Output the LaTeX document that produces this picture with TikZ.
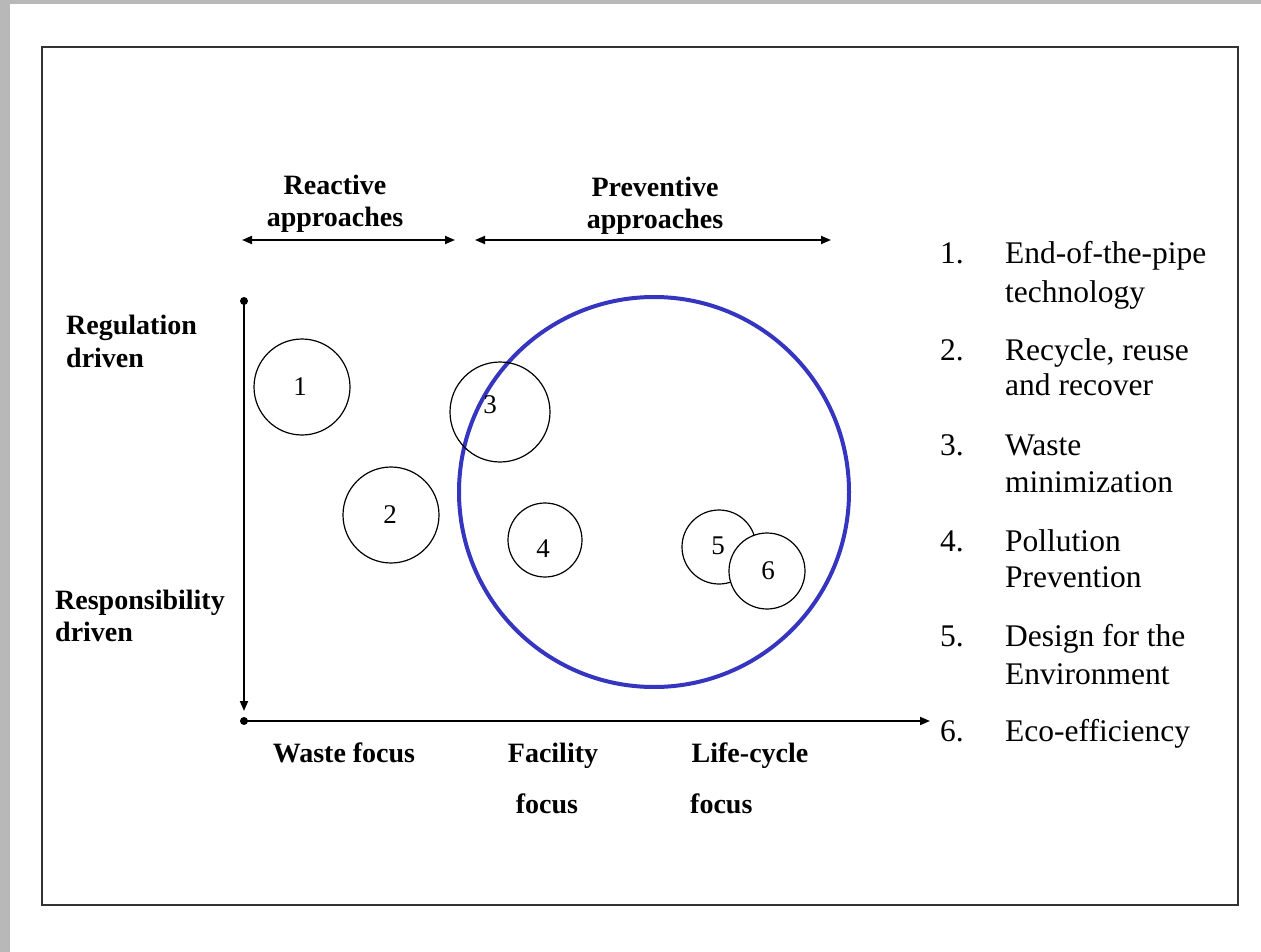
\documentclass[tikz,border=0pt]{standalone}
\usepackage{fontspec}
\setmainfont{Liberation Serif}
\usetikzlibrary{arrows.meta}
\definecolor{pagegray}{HTML}{B8B8B8}
\definecolor{framegray}{HTML}{333333}
\definecolor{ringblue}{HTML}{3535C0}
\tikzset{
  lbl/.style={font=\fontsize{28}{32}\selectfont\bfseries, inner sep=0pt, anchor=base},
  lbll/.style={lbl, anchor=base west},
  leg/.style={font=\fontsize{31.5}{35}\selectfont, inner sep=0pt, anchor=base west},
  bub/.style={circle, draw=black, line width=1.2pt, inner sep=0pt},
  num/.style={font=\fontsize{27}{30}\selectfont, inner sep=0pt},
  ax/.style={line width=1.8pt, draw=black},
  tip/.style={-{Triangle[length=10pt,width=8pt]}},
  dtip/.style={{Triangle[length=10pt,width=8pt]}-{Triangle[length=10pt,width=8pt]}},
  dot/.style={circle, fill=black, inner sep=0pt, minimum size=8pt}
}
\begin{document}
\begin{tikzpicture}[x=1pt,y=-1pt]
\useasboundingbox (0,0) rectangle (1261,952);
\fill[pagegray] (0,0) rectangle (1261,952);
\fill[white] (10,4) rectangle (1261,952);
\draw[framegray, line width=2.8pt] (42,47) rectangle (1238,905);

% approach arrows
\coordinate (ra) at (242,240); \coordinate (rb) at (455,240);
\coordinate (pa) at (475,240); \coordinate (pb) at (831,240);
\draw[ax, dtip] (ra) -- (rb);
\draw[ax, dtip] (pa) -- (pb);
\node[lbl] (react1) at (335,195) {Reactive};
\node[lbl] (react2) at (335,227) {approaches};
\node[lbl] (prev1) at (655,197) {Preventive};
\node[lbl] (prev2) at (655,229) {approaches};

% axes
\node[dot] (top) at (244,301) {};
\node[dot] (orig) at (244,721) {};
\coordinate (vend) at (244,711);
\coordinate (hend) at (930,721);
\draw[ax, tip] (top.center) -- (vend);
\draw[ax, tip] (orig.center) -- (hend);

\node[lbll] (reg1) at (66,334) {Regulation};
\node[lbll] (reg2) at (66,367) {driven};
\node[lbll] (res1) at (55,609) {Responsibility};
\node[lbll] (res2) at (55,641) {driven};

\node[lbl] (wf) at (344,762) {Waste focus};
\node[lbl] (fa1) at (553,762) {Facility};
\node[lbl] (fa2) at (547,813) {focus};
\node[lbl] (lc1) at (750,762) {Life-cycle};
\node[lbll] (lc2) at (690,813) {focus};

% blue ring
\node[circle, draw=ringblue, line width=4pt, minimum size=390pt, inner sep=0pt] (ring) at (654,492) {};

% bubbles
\node[bub, minimum size=96pt] (c1) at (302,387) {};
\node[bub, minimum size=96pt] (c2) at (391,515) {};
\node[bub, minimum size=100pt] (c3) at (500,412) {};
\node[bub, minimum size=74pt] (c4) at (545,540) {};
\node[bub, minimum size=74pt] (c5) at (719,547) {};
\node[bub, fill=white, minimum size=76pt] (c6) at (767,571) {};
\node[num] (n1) at (300,387) {1};
\node[num] (n2) at (390,515) {2};
\node[num] (n3) at (490,405) {3};
\node[num] (n4) at (543,549) {4};
\node[num] (n5) at (718,546) {5};
\node[num] (n6) at (768,571) {6};

% legend
\node[leg] (l1n) at (940,263) {1.};
\node[leg] (l1a) at (1005,263) {End-of-the-pipe};
\node[leg] (l1b) at (1005,302) {technology};
\node[leg] (l2n) at (940,360) {2.};
\node[leg] (l2a) at (1005,360) {Recycle, reuse};
\node[leg] (l2b) at (1005,395) {and recover};
\node[leg] (l3n) at (940,455) {3.};
\node[leg] (l3a) at (1005,455) {Waste};
\node[leg] (l3b) at (1005,492) {minimization};
\node[leg] (l4n) at (940,551) {4.};
\node[leg] (l4a) at (1005,551) {Pollution};
\node[leg] (l4b) at (1005,587) {Prevention};
\node[leg] (l5n) at (940,646) {5.};
\node[leg] (l5a) at (1005,646) {Design for the};
\node[leg] (l5b) at (1005,684) {Environment};
\node[leg] (l6n) at (940,741) {6.};
\node[leg] (l6a) at (1005,741) {Eco-efficiency};
\end{tikzpicture}
\end{document}
